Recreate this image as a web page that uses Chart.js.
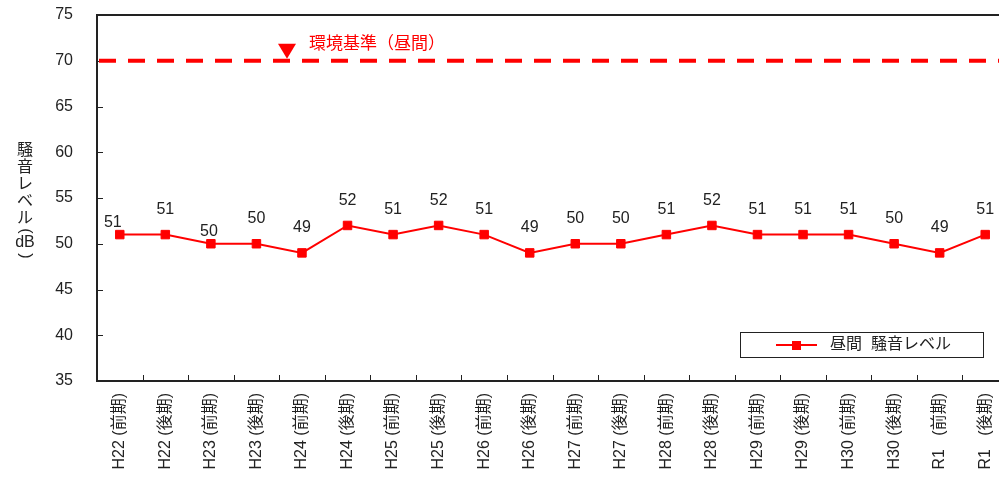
<!DOCTYPE html>
<html>
<head>
<meta charset="utf-8">
<script src="https://cdn.jsdelivr.net/npm/chart.js@4/dist/chart.umd.min.js"></script>
<style>
  html, body { margin: 0; padding: 0; background: #fff; overflow: hidden; }
  #wrap { width: 999px; height: 477px; overflow: hidden; }
</style>
</head>
<body>
<div id="wrap"><canvas id="chart" width="1015" height="477" style="width:1015px;height:477px"></canvas></div>
<script>
const categories = ['H22 (前期)', 'H22 (後期)', 'H23 (前期)', 'H23 (後期)', 'H24 (前期)', 'H24 (後期)',
  'H25 (前期)', 'H25 (後期)', 'H26 (前期)', 'H26 (後期)', 'H27 (前期)', 'H27 (後期)',
  'H28 (前期)', 'H28 (後期)', 'H29 (前期)', 'H29 (後期)', 'H30 (前期)', 'H30 (後期)',
  'R1   (前期)', 'R1   (後期)'];
const daytimeLevels = [51, 51, 50, 50, 49, 52, 51, 52, 51, 49, 50, 50, 51, 52, 51, 51, 51, 50, 49, 51];
const standardLevel = 70;
const yTicks = [35, 40, 45, 50, 55, 60, 65, 70, 75];

const seriesName = '昼間  騒音レベル';
const standardName = '環境基準（昼間）';
const yTitleChars = ['騒', '音', 'レ', 'ベ', 'ル', '(', 'dB', ')'];

const red = '#ff0000';
const ink = '#222';
const font = "'Liberation Sans', 'Noto Sans CJK JP', sans-serif";

// everything that isn't a standard chart element gets drawn here
const extras = {
  id: 'extras',
  afterDraw(chart) {
    const ctx = chart.ctx;
    const area = chart.chartArea;
    const y = chart.scales.y;
    ctx.save();

    // top frame line
    ctx.strokeStyle = ink;
    ctx.lineWidth = 2;
    ctx.beginPath();
    ctx.moveTo(area.left - 1, area.top);
    ctx.lineTo(area.right, area.top);
    ctx.stroke();

    // inward tick marks
    ctx.lineWidth = 1;
    ctx.beginPath();
    for (const v of yTicks) {
      const py = Math.round(y.getPixelForValue(v)) + 0.5;
      ctx.moveTo(area.left, py);
      ctx.lineTo(area.left + 6, py);
    }
    const step = (area.right - area.left) / categories.length;
    for (let i = 1; i < categories.length; i++) {
      const px = Math.round(area.left + i * step) + 0.5;
      ctx.moveTo(px, area.bottom);
      ctx.lineTo(px, area.bottom - 6);
    }
    ctx.stroke();

    // environmental standard line
    const sy = y.getPixelForValue(standardLevel);
    ctx.strokeStyle = red;
    ctx.lineWidth = 4;
    ctx.setLineDash([17, 12]);
    ctx.beginPath();
    ctx.moveTo(area.left + 2, sy);
    ctx.lineTo(area.right, sy);
    ctx.stroke();
    ctx.setLineDash([]);

    // triangle marker + label
    const tx = area.left + 190;
    ctx.fillStyle = red;
    ctx.beginPath();
    ctx.moveTo(tx - 9, sy - 17);
    ctx.lineTo(tx + 9, sy - 17);
    ctx.lineTo(tx, sy - 2);
    ctx.closePath();
    ctx.fill();
    ctx.font = '17px ' + font;
    ctx.textAlign = 'left';
    ctx.textBaseline = 'middle';
    ctx.fillText(standardName, tx + 22, sy - 16);

    // data labels
    ctx.fillStyle = ink;
    ctx.font = '16px ' + font;
    ctx.textAlign = 'center';
    const meta = chart.getDatasetMeta(0);
    meta.data.forEach((pt, i) => {
      let dy = 25, dx = 0;
      if (i === 0) { dy = 12; dx = -7; }
      if (i === 2) { dy = 12; dx = -2; }
      ctx.fillText(String(daytimeLevels[i]), pt.x + dx, pt.y - dy);
    });

    // y-axis title, stacked vertically (brackets turned sideways)
    ctx.font = '16px ' + font;
    const ys = [151, 168, 185, 202, 219, 231, 243, 256];
    yTitleChars.forEach((c, i) => {
      if (c === '(' || c === ')') {
        ctx.save();
        ctx.translate(25, ys[i]);
        ctx.rotate(Math.PI / 2);
        ctx.fillText(c, 0, 0);
        ctx.restore();
      } else {
        ctx.fillText(c, 25, ys[i]);
      }
    });

    // legend box
    ctx.fillStyle = '#fff';
    ctx.fillRect(740, 332, 243, 25);
    ctx.strokeStyle = ink;
    ctx.lineWidth = 1;
    ctx.strokeRect(740.5, 332.5, 243, 25);
    ctx.strokeStyle = red;
    ctx.lineWidth = 2;
    ctx.beginPath();
    ctx.moveTo(776, 345);
    ctx.lineTo(817, 345);
    ctx.stroke();
    ctx.fillStyle = red;
    ctx.fillRect(792, 341, 9, 9);
    ctx.fillStyle = ink;
    ctx.textAlign = 'left';
    ctx.fillText(seriesName, 830, 345);

    ctx.restore();
  }
};

new Chart(document.getElementById('chart'), {
  type: 'line',
  data: {
    labels: categories,
    datasets: [{
      label: seriesName,
      data: daytimeLevels,
      borderColor: red,
      backgroundColor: red,
      borderWidth: 2,
      pointStyle: 'rect',
      pointRadius: 6,
      pointBorderWidth: 1,
      tension: 0
    }]
  },
  options: {
    responsive: false,
    animation: false,
    layout: { padding: { top: 15, right: 4, left: 0, bottom: 0 } },
    plugins: {
      legend: { display: false },
      tooltip: { enabled: false }
    },
    scales: {
      x: {
        type: 'category',
        offset: true,
        grid: { display: false, drawTicks: false },
        border: { color: ink, width: 2 },
        ticks: {
          autoSkip: false,
          maxRotation: 90,
          minRotation: 90,
          padding: 12,
          color: ink,
          font: { family: font, size: 16 }
        },
        afterFit(scale) {
          scale.height = 96;
          scale.paddingLeft = 0;
          scale.paddingRight = 0;
        }
      },
      y: {
        min: 35,
        max: 75,
        grid: { display: false, drawTicks: false },
        border: { color: ink, width: 2 },
        ticks: {
          stepSize: 5,
          padding: 24,
          color: ink,
          font: { family: font, size: 16 }
        },
        afterFit(scale) {
          scale.width = 97;
          scale.paddingTop = 0;
          scale.paddingBottom = 0;
        }
      }
    }
  },
  plugins: [extras]
});
</script>
</body>
</html>
